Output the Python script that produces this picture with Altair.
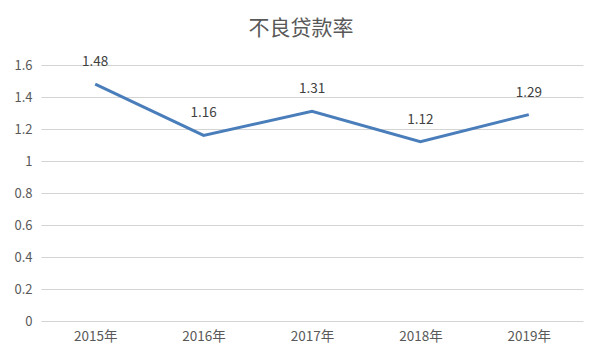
import altair as alt
import pandas as pd

years = ["2015年", "2016年", "2017年", "2018年", "2019年"]
rates = [1.48, 1.16, 1.31, 1.12, 1.29]
y_ticks = [0, 0.2, 0.4, 0.6, 0.8, 1, 1.2, 1.4, 1.6]

df = pd.DataFrame({"year": years, "rate": rates})
FONT = "Noto Sans CJK SC"

base = alt.Chart(df).encode(
    x=alt.X("year:N", sort=years, scale=alt.Scale(paddingInner=0, paddingOuter=0), title=None,
            axis=alt.Axis(labelAngle=0, ticks=False, domain=False, grid=False,
                          labelFont=FONT, labelFontSize=13.5, labelColor="#595959", labelPadding=8)),
    y=alt.Y("rate:Q", scale=alt.Scale(domain=[0, 1.6], nice=False), title=None,
            axis=alt.Axis(values=y_ticks, ticks=False, domain=False, gridColor="#d4d4d4",
                          labelFont=FONT, labelFontSize=13, labelColor="#595959", labelPadding=9,
                          labelExpr="datum.value == 0 ? '0' : format(datum.value, '.1~f')")),
)

line = base.mark_line(color="#4a7ebb", strokeWidth=3)
labels = base.mark_text(dy=-22, font=FONT, fontSize=13.5, color="#404040").encode(text=alt.Text("rate:Q", format=".2f"))

chart = (line + labels).properties(
    width=542, height=256,
    title=alt.TitleParams("不良贷款率", font=FONT, fontSize=21, fontWeight="normal", color="#595959",
                          anchor="middle", frame="group", dx=-11, offset=16),
    padding={"left": 33, "top": 57, "right": 11, "bottom": 40},
    autosize=alt.AutoSizeParams(type="none"),
).configure_view(stroke=None)

chart.save("out.html", embed_options={"renderer": "svg", "actions": False})
